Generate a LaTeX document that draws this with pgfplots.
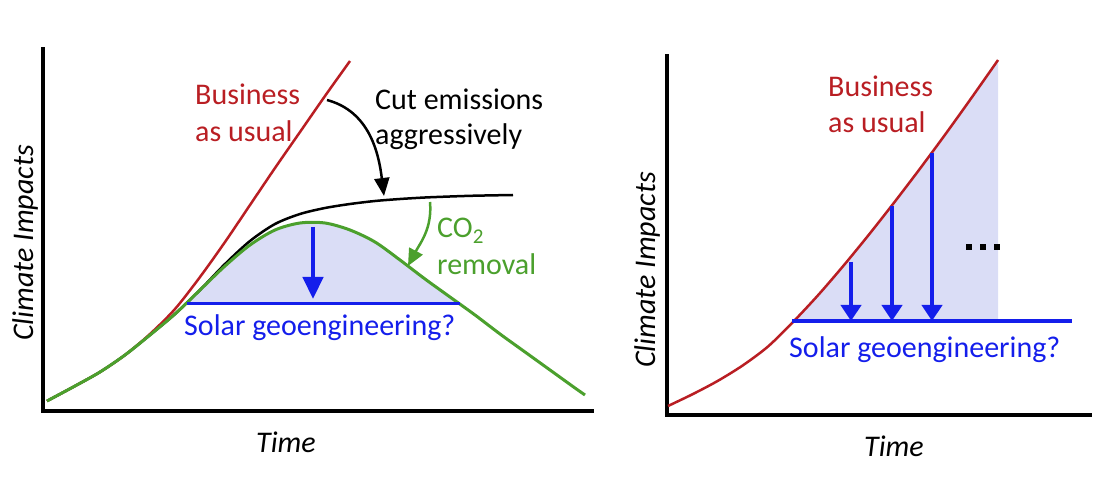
\documentclass[border=0pt]{standalone}
\usepackage{fontspec}
\setmainfont{Carlito}
\usepackage{pgfplots}
\pgfplotsset{compat=1.18}
\usetikzlibrary{arrows.meta}
\definecolor{bau}{RGB}{185,30,35}
\definecolor{cdr}{RGB}{75,160,45}
\definecolor{sg}{RGB}{20,30,235}
\definecolor{shade}{RGB}{218,221,246}
\pgfplotsset{
  panel/.style={scale only axis, anchor=south west, clip=false,
    axis x line*=bottom, axis y line*=left,
    axis line style={-, line width=4.5pt, line cap=rect},
    xtick=\empty, ytick=\empty},
}
\begin{document}
\begin{tikzpicture}[font=\fontsize{30}{36}\selectfont, every node/.style={inner sep=0pt}]
\useasboundingbox (0pt,0pt) rectangle (1102pt,482pt);
% ---------------- left panel ----------------
\begin{axis}[panel, at={(43pt,71pt)}, width=549pt, height=362pt,
  xmin=43, xmax=592, ymin=71, ymax=433]
% shaded region (under CO2-removal curve, above the solar level)
\addplot[fill=shade, draw=none, smooth] coordinates {
 (185,178) (187,180) (200,192) (212.5,204) (225,216) (237.5,227) (250,237) (262.5,245.5)
 (275,252) (287.5,256.5) (300,259) (312.5,260) (325,259) (337.5,256) (350,252)
 (362.5,246.5) (375,240) (387.5,231.5) (400,222) (412.5,212.5) (425,203)
 (437.5,194) (450,185) (460,178)} -- cycle;
% cut emissions (black)
\addplot[black, line width=2.5pt, smooth] coordinates {
 (47,81) (75,96) (100,110) (125,127) (150,147) (175,168) (200,192) (225,218)
 (250,241) (275,258) (300,268) (325,274) (350,278) (375,281) (400,283)
 (425,284.5) (450,285.5) (475,286.3) (513,287)};
% business as usual (red)
\addplot[bau, line width=2.5pt, smooth] coordinates {
 (47,81) (75,96) (100,110) (125,127) (150,148) (175,173) (200,205) (225,240)
 (250,277) (275,314) (300,350) (325,386) (350,421)};
% CO2 removal (green)
\addplot[cdr, line width=3pt, smooth] coordinates {
 (47,81) (75,96) (100,110) (125,127) (150,147) (175,168) (200,192) (225,216)
 (250,237) (275,252) (300,259) (325,259) (350,252) (375,240) (400,222)
 (425,203) (450,185) (475,167) (500,148) (525,130) (550,112) (575,94) (585,87)};
% solar geoengineering level
\addplot[sg, line width=3pt] coordinates {(187,178) (460,178)};
\addplot[sg, line width=4.5pt, -{Triangle[width=20pt,length=22pt]}] coordinates {(313,255) (313,183)};
% annotations
\draw[black, line width=2.5pt, -{Triangle[width=15pt,length=18pt]}]
  (axis cs:327,382) to[out=-15, in=97] (axis cs:384,286);
\draw[cdr, line width=2.5pt, -{Triangle[width=15pt,length=17pt]}]
  (axis cs:430,280) to[out=-85, in=62] (axis cs:408,216);
\node[bau, anchor=base west] at (axis cs:195,377) {Business};
\node[bau, anchor=base west] at (axis cs:195,340) {as usual};
\node[anchor=base west] at (axis cs:375,372) {Cut emissions};
\node[anchor=base west] at (axis cs:375,337) {aggressively};
\node[cdr, anchor=base west] at (axis cs:437,244) {CO\textsubscript{2}};
\node[cdr, anchor=base west] at (axis cs:437,207) {removal};
\node[sg, anchor=base west] at (axis cs:184,147) {Solar geoengineering?};
\node[anchor=base] at (axis cs:286,30) {\itshape Time};
\node[rotate=90, anchor=base] at (axis cs:33,239) {\itshape Climate Impacts};
\end{axis}
% ---------------- right panel ----------------
\begin{axis}[panel, at={(667pt,67pt)}, width=423pt, height=359pt,
  xmin=667, xmax=1090, ymin=67, ymax=426]
\addplot[fill=shade, draw=none] coordinates {
 (793,160) (805.5,173) (818,186.75) (830.5,201) (843,215.75) (855.5,230.8)
 (868,246.25) (880.5,262) (893,278) (905.5,294.3) (918,310.75) (930.5,327.5)
 (943,344.5) (955.5,361.8) (968,379.25) (980.5,397) (993,414.75) (998,422) (998,161)} -- cycle;
\addplot[bau, line width=2.5pt, smooth] coordinates {
 (668,76) (693,88) (718,101.25) (743,116.75) (768,135.5) (793,160) (818,186.75)
 (843,215.75) (868,246.25) (893,278) (918,310.75) (943,344.5) (968,379.25)
 (993,414.75) (998,422)};
\addplot[sg, line width=4pt] coordinates {(792,161) (1072,161)};
\addplot[sg, line width=4.5pt, -{Triangle[width=20pt,length=16pt]}] coordinates {(851,220) (851,161)};
\addplot[sg, line width=4.5pt, -{Triangle[width=20pt,length=16pt]}] coordinates {(892,276) (892,161)};
\addplot[sg, line width=4.5pt, -{Triangle[width=20pt,length=16pt]}] coordinates {(932,329) (932,161)};
\addplot[only marks, mark=square*, mark size=2.6pt, black] coordinates {(969,235) (983,235) (997,235)};
\node[bau, anchor=base west] at (axis cs:828,385) {Business};
\node[bau, anchor=base west] at (axis cs:828,349) {as usual};
\node[sg, anchor=base west] at (axis cs:789,125) {Solar geoengineering?};
\node[anchor=base] at (axis cs:894,26) {\itshape Time};
\node[rotate=90, anchor=base] at (axis cs:655,212) {\itshape Climate Impacts};
\end{axis}
\end{tikzpicture}
\end{document}
